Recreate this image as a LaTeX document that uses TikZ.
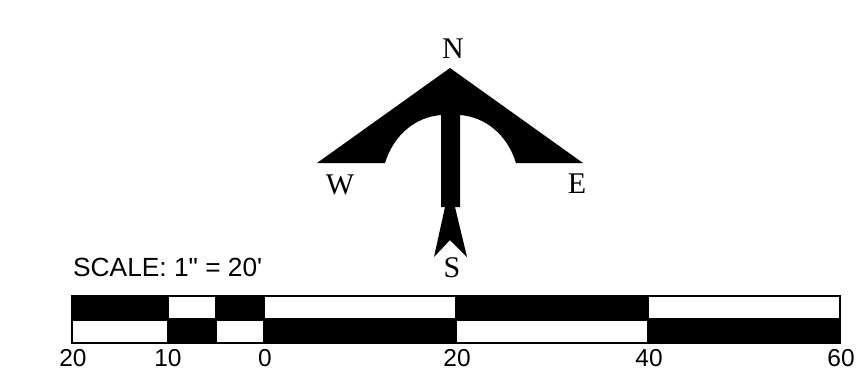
\documentclass[tikz,border=0pt]{standalone}
\usepackage{fontspec}
\setmainfont{Liberation Sans}
\newfontfamily\titlefont[Ligatures=Discretionary]{Liberation Sans}
\newfontfamily\compassfont{Liberation Serif}
\tikzset{
  x=1pt,y=-1pt,
  ink/.style={fill=black,draw=none},
  gap/.style={fill=white,draw=none},
  scalenum/.style={inner sep=0pt,anchor=base,font=\fontsize{24.5}{24.5}\selectfont},
  compass/.style={inner sep=0pt,anchor=base,font=\compassfont\fontsize{30}{30}\selectfont},
}
\begin{document}
\begin{tikzpicture}
\useasboundingbox (0,0) rectangle (867,368);
\fill[white] (0,0) rectangle (867,368);
% compass
\fill[ink] (450,68) -- (583,163) -- (516,163)
  .. controls (507,134) and (485,117) .. (460,115)
  -- (460,207) -- (455,207) -- (467,257) -- (450,240) -- (434,257) -- (445,207) -- (441,207) -- (441,115)
  .. controls (416,117) and (394,134) .. (385,163)
  -- (317,163) -- cycle;
\node[compass] (n) at (453,58) {N};
\node[compass] (w) at (340,194) {W};
\node[compass] (e) at (577,193) {E};
\node[compass] (s) at (452,277) {S};
% scale bar
\node[scalenum,anchor=base west] (title) at (73,276) {\titlefont\fontsize{26.3}{26.3}\selectfont SCALE: 1\symbol{34} = 20\symbol{39}};
\fill[ink] (71,295) rectangle (841,344);
\fill[gap] (169,297) rectangle (215,318);
\fill[gap] (265,297) rectangle (455,318);
\fill[gap] (649,297) rectangle (839,318);
\fill[gap] (73,321) rectangle (167,342);
\fill[gap] (217,321) rectangle (263,342);
\fill[gap] (457,321) rectangle (647,342);
\node[scalenum] (a) at (73,366) {20};
\node[scalenum] (b) at (168,366) {10};
\node[scalenum] (c) at (265,366) {0};
\node[scalenum] (d) at (457,366) {20};
\node[scalenum] (f) at (649,366) {40};
\node[scalenum] (g) at (841,366) {60};
\end{tikzpicture}
\end{document}
